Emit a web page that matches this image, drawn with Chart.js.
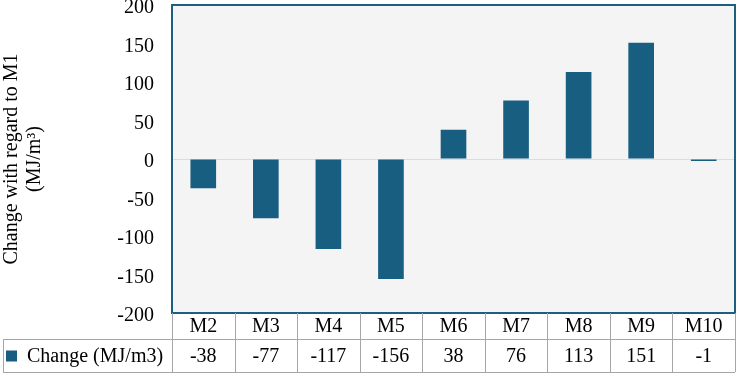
<!DOCTYPE html>
<html>
<head>
<meta charset="utf-8">
<script src="https://cdn.jsdelivr.net/npm/chart.js@4"></script>
<style>
  html, body { margin: 0; padding: 0; background: #fff; }
  #wrap { width: 737px; height: 373px; }
</style>
</head>
<body>
<div id="wrap"><canvas id="canvas"></canvas></div>
<script>
// data
const categories = ['M2', 'M3', 'M4', 'M5', 'M6', 'M7', 'M8', 'M9', 'M10'];
const changeValues = [-38, -77, -117, -156, 38, 76, 113, 151, -1];
const seriesName = 'Change (MJ/m3)';
const yTitle = ['Change with regard to M1', '(MJ/m\u00b3)'];

const barColor = '#175e80';
const serif = "'Liberation Serif', 'Times New Roman', serif";

// plot background + dark frame
const plotFrame = {
  id: 'plotFrame',
  beforeDraw(chart) {
    const a = chart.chartArea, ctx = chart.ctx;
    ctx.save();
    ctx.fillStyle = '#f4f4f4';
    ctx.fillRect(a.left, a.top, a.right - a.left, a.bottom - a.top);
    ctx.restore();
  },
  afterDatasetsDraw(chart) {
    const a = chart.chartArea, ctx = chart.ctx;
    ctx.save();
    ctx.strokeStyle = '#1d5f7e';
    ctx.lineWidth = 2;
    ctx.strokeRect(a.left, a.top, a.right - a.left, a.bottom - a.top);
    ctx.restore();
  }
};

// data table under the plot, columns taken from the x scale
const dataTable = {
  id: 'dataTable',
  afterDraw(chart) {
    const a = chart.chartArea, ctx = chart.ctx, x = chart.scales.x;
    const row1 = a.bottom, row2 = a.bottom + 26, row3 = chart.height - 1;
    const tableLeft = 3;
    const step = (a.right - a.left) / categories.length;
    ctx.save();
    ctx.strokeStyle = '#a6a6a6';
    ctx.lineWidth = 1;
    ctx.beginPath();
    ctx.moveTo(tableLeft, row2 + 0.5); ctx.lineTo(a.right, row2 + 0.5);
    ctx.moveTo(tableLeft, row3 + 0.5); ctx.lineTo(a.right, row3 + 0.5);
    ctx.moveTo(tableLeft + 0.5, row2); ctx.lineTo(tableLeft + 0.5, row3);
    for (let i = 0; i <= categories.length; i++) {
      const px = Math.round(a.left + i * step) + 0.5;
      ctx.moveTo(px, row1); ctx.lineTo(px, row3);
    }
    ctx.stroke();

    ctx.fillStyle = '#000';
    ctx.font = '20px ' + serif;
    ctx.textAlign = 'center';
    ctx.textBaseline = 'middle';
    categories.forEach((c, i) => {
      const cx = x.getPixelForValue(i);
      ctx.fillText(c, cx, (row1 + row2) / 2 + 1);
      ctx.fillText(String(changeValues[i]), cx, (row2 + row3) / 2 + 1);
    });

    // legend key + series name
    ctx.fillStyle = barColor;
    ctx.fillRect(6, (row2 + row3) / 2 - 5, 11, 11);
    ctx.fillStyle = '#000';
    ctx.textAlign = 'left';
    ctx.fillText(seriesName, 27, (row2 + row3) / 2 + 1);
    ctx.restore();
  }
};

new Chart(document.getElementById('canvas'), {
  type: 'bar',
  data: {
    labels: categories,
    datasets: [{
      label: seriesName,
      data: changeValues,
      backgroundColor: barColor,
      borderWidth: 0,
      minBarLength: 2,
      barPercentage: 0.41,
      categoryPercentage: 1
    }]
  },
  options: {
    responsive: true,
    maintainAspectRatio: false,
    animation: false,
    layout: { padding: { top: 5, right: 2, bottom: 60, left: 0 } },
    plugins: {
      legend: { display: false },
      tooltip: { enabled: false }
    },
    scales: {
      x: { display: false },
      y: {
        min: -200,
        max: 200,
        ticks: {
          stepSize: 50,
          padding: 18,
          labelOffset: 3,
          color: '#000',
          font: { family: serif, size: 20 }
        },
        grid: {
          drawTicks: false,
          color: c => (c.tick && c.tick.value === 0 ? '#dcdcdc' : 'rgba(0,0,0,0)')
        },
        border: { display: false },
        title: {
          display: true,
          text: yTitle,
          color: '#000',
          padding: { top: 0, bottom: 0 },
          font: { family: serif, size: 20, lineHeight: 1.15 }
        },
        afterFit(scale) {
          scale.width = 172;
          scale.paddingTop = 0;
          scale.paddingBottom = 0;
        }
      }
    }
  },
  plugins: [plotFrame, dataTable]
});
</script>
</body>
</html>
